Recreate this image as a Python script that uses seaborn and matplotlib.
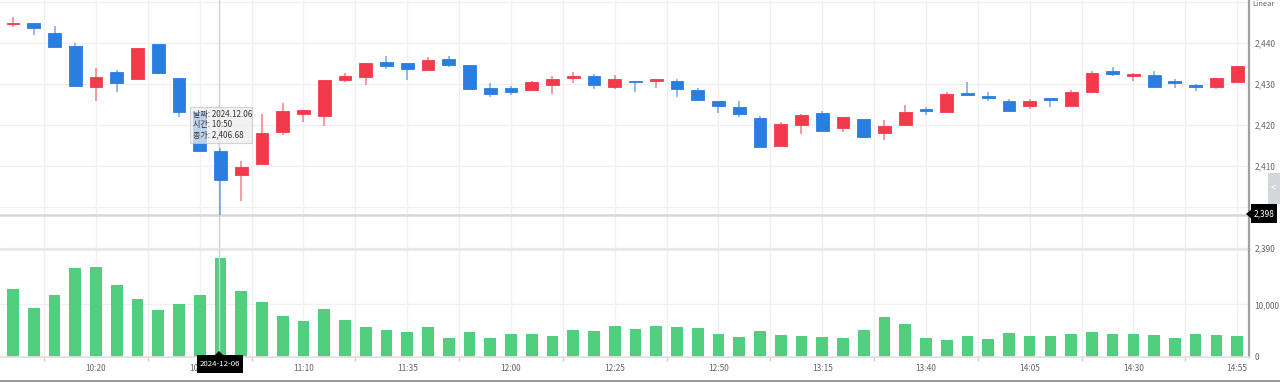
import numpy as np
import pandas as pd
import matplotlib
matplotlib.use("Agg")
import matplotlib.pyplot as plt
from matplotlib.patches import Rectangle, Polygon
import seaborn as sns

# ---------------- data ----------------
times = ["10:00","10:05","10:10","10:15","10:20","10:25","10:30","10:35","10:40","10:45",
         "10:50","10:55","11:00","11:05","11:10","11:15","11:20","11:25","11:30","11:35",
         "11:40","11:45","11:50","11:55","12:00","12:05","12:10","12:15","12:20","12:25",
         "12:30","12:35","12:40","12:45","12:50","12:55","13:00","13:05","13:10","13:15",
         "13:20","13:25","13:30","13:35","13:40","13:45","13:50","13:55","14:00","14:05",
         "14:10","14:15","14:20","14:25","14:30","14:35","14:40","14:45","14:50","14:55"]
opens = [2444.6,2445.0,2442.4,2439.3,2429.3,2433.1,2431.4,2439.8,2431.5,2423.3,
         2413.8,2407.9,2410.6,2418.3,2422.8,2422.3,2431.0,2431.7,2435.4,2435.2,
         2433.5,2436.2,2434.8,2429.0,2429.0,2428.6,2429.8,2431.5,2432.0,2429.4,
         2430.8,2430.9,2430.9,2428.7,2425.9,2424.4,2421.8,2415.0,2420.0,2422.9,
         2419.3,2421.5,2418.0,2420.0,2423.7,2423.3,2427.7,2427.2,2425.9,2424.6,
         2426.5,2424.8,2428.1,2433.2,2432.0,2432.3,2430.7,2429.6,2429.3,2430.6]
highs = [2446.3,2445.0,2444.3,2440.1,2433.9,2433.5,2438.8,2439.8,2431.5,2423.3,
         2414.4,2411.3,2422.7,2425.4,2423.7,2431.0,2432.8,2435.3,2437.0,2435.2,
         2436.7,2436.9,2434.8,2430.3,2429.6,2430.9,2431.9,2433.1,2432.5,2432.2,
         2430.8,2431.2,2431.3,2429.1,2425.9,2425.9,2422.2,2420.9,2422.8,2423.4,
         2422.0,2421.5,2421.3,2424.9,2424.5,2428.1,2430.5,2428.1,2426.4,2426.4,
         2426.5,2428.6,2433.3,2434.1,2432.8,2433.3,2431.3,2430.1,2431.5,2434.5]
lows = [2443.9,2442.0,2439.2,2429.6,2425.9,2428.0,2431.4,2432.8,2422.1,2413.5,
        2398.0,2401.5,2410.6,2417.5,2420.9,2419.7,2430.6,2429.7,2433.8,2431.0,
        2433.2,2434.3,2428.7,2427.0,2427.4,2428.4,2427.6,2430.2,2428.9,2428.9,
        2428.2,2429.0,2427.0,2425.9,2422.9,2422.0,2414.7,2415.0,2417.8,2418.5,
        2418.3,2417.2,2416.5,2420.0,2422.6,2423.3,2427.4,2426.0,2423.5,2424.0,
        2424.5,2424.8,2428.1,2432.0,2430.7,2429.4,2429.2,2428.4,2428.8,2430.6]
closes = [2444.8,2443.7,2439.2,2429.6,2431.7,2430.4,2438.8,2432.8,2423.3,2413.7,
          2406.68,2409.9,2418.0,2423.5,2423.7,2431.0,2432.0,2435.3,2434.5,2433.7,
          2435.9,2434.7,2428.9,2427.6,2428.1,2430.6,2431.4,2432.0,2429.9,2431.4,
          2430.5,2431.2,2428.8,2426.2,2424.8,2422.8,2414.7,2420.2,2422.4,2418.5,
          2422.0,2417.2,2419.9,2423.3,2423.5,2427.6,2427.4,2426.6,2423.5,2425.9,
          2426.2,2428.0,2432.8,2432.4,2432.2,2429.4,2430.4,2429.3,2431.5,2434.5]
volumes = [12850,9360,11770,16950,17080,13720,11010,8860,10120,11770,
           18730,12470,10380,7780,6890,9110,7020,5630,5120,4810,
           5630,3540,4680,3670,4430,4300,4050,5190,4940,5950,
           5310,5950,5690,5570,4300,3800,4940,4180,3920,3800,
           3670,5190,7660,6200,3540,3290,4050,3420,4550,4050,
           3920,4300,4810,4430,4300,4180,3540,4430,4180,3920]
price_ticks = [2390, 2400, 2410, 2420, 2430, 2440]
volume_ticks = [0, 10000]
cross_price = 2398
cross_date = "2024-12-06"
tooltip_lines = ["날짜: 2024.12.06", "시간: 10:50", "종가: 2,406.68"]

df = pd.DataFrame({"idx": np.arange(len(times)), "time": times, "open": opens,
                   "high": highs, "low": lows, "close": closes, "volume": volumes})

# ---------------- style ----------------
sns.set_theme(style="white")
plt.rcParams["font.family"] = ["Noto Sans CJK KR", "DejaVu Sans"]

RED = "#F23A4B"
BLUE = "#2A7DE1"
GREEN = "#52CF7E"
GRID = "#F0F0F2"
TXT = "#666666"
FS = 6.0

W, H = 1280, 382
fig = plt.figure(figsize=(W / 100, H / 100), dpi=100)
fig.patch.set_facecolor("white")

def fx(px):
    return px / W

def fy(py):
    return 1 - py / H

x_left, x_right = -0.627, 59.57
ax = fig.add_axes([0, fy(249), fx(1249), 249 / H])
axv = fig.add_axes([0, fy(357), fx(1249), 108 / H], sharex=ax)

# ---------------- volume (seaborn) ----------------
sns.barplot(data=df, x="idx", y="volume", native_scale=True, color=GREEN,
            saturation=1, width=0.56, linewidth=0, ax=axv)

# ---------------- candles ----------------
up = df["close"] >= df["open"]
colors = np.where(up, RED, BLUE)
body_bottom = np.minimum(df["open"], df["close"])
body_h = np.maximum(np.abs(df["close"] - df["open"]), 0.4)
ax.vlines(df["idx"], df["low"], df["high"], colors=colors, linewidth=1.2, alpha=0.6, zorder=2)
ax.bar(df["idx"], body_h, bottom=body_bottom, width=0.62, color=colors,
       edgecolor=colors, linewidth=0.6, zorder=3)

# ---------------- axes formatting ----------------
ax.set_ylim(2389.8, 2450.56)
axv.set_ylim(0, 20500)
ax.set_xlim(x_left, x_right)

major = np.arange(4, 60, 5)
minor = np.arange(1.5, 60, 5)
for a in (ax, axv):
    a.set_facecolor("white")
    for s in ("left", "top"):
        a.spines[s].set_visible(False)
    a.spines["right"].set_color("#A0A0A0")
    a.spines["right"].set_linewidth(1.6)
    a.spines["bottom"].set_visible(False)
    for g in list(major) + list(minor) + [-1]:
        a.axvline(g, color=GRID, linewidth=1, zorder=0)
    a.yaxis.tick_right()
    a.tick_params(axis="y", length=0, pad=4, labelsize=FS, labelcolor=TXT)

ax.set_yticks(price_ticks)
ax.set_yticklabels([f"{v:,}" for v in price_ticks])
for v in price_ticks + [2450]:
    ax.axhline(v, color=GRID, linewidth=1, zorder=0)
ax.tick_params(axis="x", bottom=False, labelbottom=False)

axv.set_yticks(volume_ticks)
axv.set_yticklabels([f"{v:,}" for v in volume_ticks])
axv.axhline(10000, color=GRID, linewidth=1, zorder=0)
axv.axhline(20500, color="#E8E8EA", linewidth=2, zorder=0, clip_on=False)
axv.spines["bottom"].set_visible(True)
axv.spines["bottom"].set_color("#E0E0E6")
axv.set_xticks(major)
axv.set_xticklabels([times[i] for i in major])
axv.set_xticks(minor, minor=True)
axv.tick_params(axis="x", which="major", length=0, pad=5, labelsize=FS, labelcolor=TXT)
axv.tick_params(axis="x", which="minor", bottom=True, length=3, color="#C8D0E0", width=1)
axv.set_xlabel("")
axv.set_ylabel("")
ax.set_ylabel("")
axv.set_xlim(x_left, x_right)

# ---------------- crosshair ----------------
ci = 10
ax.axhline(cross_price, color="#D6D6D6", linewidth=1.8, zorder=1)
ax.axvline(ci - 0.07, color="#D0D0D0", linewidth=1, zorder=1)
axv.axvline(ci - 0.07, color="#D0D0D0", linewidth=1, zorder=1)

# tooltip
fig.patches.append(Rectangle((fx(190), fy(143)), fx(62), 36 / H, transform=fig.transFigure,
                             facecolor="#EEEEEE", alpha=0.75, edgecolor="#C8C8C8",
                             linewidth=0.8, zorder=5))
for k, line in enumerate(tooltip_lines):
    fig.text(fx(193), fy(115 + 10 * k), line, fontsize=5.8, color="#333333",
             va="center", ha="left", zorder=6)

# right price label
fig.patches.append(Rectangle((fx(1251), fy(223)), fx(26), 19 / H, transform=fig.transFigure,
                             facecolor="black", edgecolor="none", zorder=5))
fig.patches.append(Polygon([(fx(1246), fy(214)), (fx(1252), fy(209)), (fx(1252), fy(219))],
                           closed=True, transform=fig.transFigure, facecolor="black",
                           edgecolor="none", zorder=5))
fig.text(fx(1264), fy(214), f"{cross_price:,}", fontsize=FS, color="white",
         ha="center", va="center", zorder=6)

# date label at bottom
fig.patches.append(Rectangle((fx(197), fy(373)), fx(46), 18 / H, transform=fig.transFigure,
                             facecolor="black", edgecolor="none", zorder=5))
fig.patches.append(Polygon([(fx(215), fy(355)), (fx(219), fy(351)), (fx(223), fy(355))],
                           closed=True, transform=fig.transFigure, facecolor="black",
                           edgecolor="none", zorder=5))
fig.text(fx(220), fy(364), cross_date, fontsize=5.6, color="white",
         ha="center", va="center", zorder=6)

# side tab and scale mode label
fig.patches.append(Rectangle((fx(1268), fy(204)), fx(12), 31 / H, transform=fig.transFigure,
                             facecolor="#D3D6DB", edgecolor="none", zorder=4))
fig.text(fx(1273), fy(188), "<", fontsize=7, color="white", ha="center", va="center", zorder=6)
fig.text(fx(1252), fy(4), "Linear", fontsize=5.4, color=TXT, ha="left", va="center")

# bottom border
fig.patches.append(Rectangle((0, 0), 1, 2 / H, transform=fig.transFigure,
                             facecolor="#9A9A9A", edgecolor="none", zorder=4))

fig.savefig("out.png", dpi=100, facecolor="white")
